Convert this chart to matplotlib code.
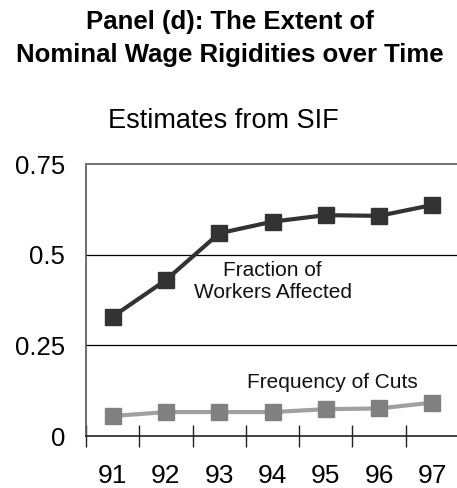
import matplotlib
matplotlib.use("Agg")
import matplotlib.pyplot as plt

years = ["91", "92", "93", "94", "95", "96", "97"]
fraction_affected = [0.329, 0.430, 0.559, 0.591, 0.609, 0.607, 0.637]
frequency_cuts = [0.055, 0.066, 0.066, 0.066, 0.074, 0.076, 0.092]
y_ticks = [0, 0.25, 0.5, 0.75]
y_tick_labels = ["0", "0.25", "0.5", "0.75"]

plt.rcParams['font.family'] = ['Liberation Sans', 'DejaVu Sans']

W, H = 457, 488
fig = plt.figure(figsize=(W / 100, H / 100), dpi=100)
fig.patch.set_facecolor("white")

left, right, top, bottom = 86, 459, 164, 436
ax = fig.add_axes([left / W, (H - bottom) / H, (right - left) / W, (bottom - top) / H])

x = list(range(len(years)))
ax.plot(x, fraction_affected, color="#333333", lw=3, marker="s", ms=11,
        markerfacecolor="#333333", markeredgecolor="#333333", zorder=3, clip_on=False)
ax.plot(x, frequency_cuts, color="#a0a0a0", lw=3, marker="s", ms=11,
        markerfacecolor="#808080", markeredgecolor="#808080", zorder=3, clip_on=False)

ax.set_xlim(-0.5, len(years) - 0.5)
ax.set_ylim(0, 0.75)

for yv in y_ticks[1:-1]:
    ax.axhline(yv, color="black", lw=0.9, zorder=1)

ax.spines["top"].set_color("#777777")
ax.spines["top"].set_linewidth(1.5)
ax.spines["right"].set_visible(False)
ax.spines["left"].set_color("#555555")
ax.spines["left"].set_linewidth(1.2)
ax.spines["bottom"].set_color("#222222")
ax.spines["bottom"].set_linewidth(1.2)

ax.set_yticks(y_ticks)
ax.set_yticklabels(y_tick_labels, fontsize=18.5)
ax.tick_params(axis="y", length=0, pad=15)

ax.set_xticks([i - 0.5 for i in range(len(years))])
ax.set_xticklabels([])
ax.tick_params(axis="x", which="major", direction="inout", length=16, width=1, color="#222222")
ax.set_xticks(x, minor=True)
ax.set_xticklabels(years, minor=True, fontsize=19)
ax.tick_params(axis="x", which="minor", length=0, pad=20)

ax.text(3, 0.427, "Fraction of\nWorkers Affected", ha="center", va="center",
        fontsize=15, linespacing=1.2, color="#111111")
ax.text(4.12, 0.147, "Frequency of Cuts", ha="center", va="center",
        fontsize=15, color="#111111")

fig.text(230 / W, 1 - 29 / H, "Panel (d): The Extent of",
         ha="center", va="baseline", fontsize=18.5, fontweight="bold")
fig.text(230 / W, 1 - 62 / H, "Nominal Wage Rigidities over Time",
         ha="center", va="baseline", fontsize=18.5, fontweight="bold")
fig.text(223 / W, 1 - 128 / H, "Estimates from SIF", ha="center", va="baseline", fontsize=19.5)

fig.savefig("out.png", dpi=100, facecolor="white")
